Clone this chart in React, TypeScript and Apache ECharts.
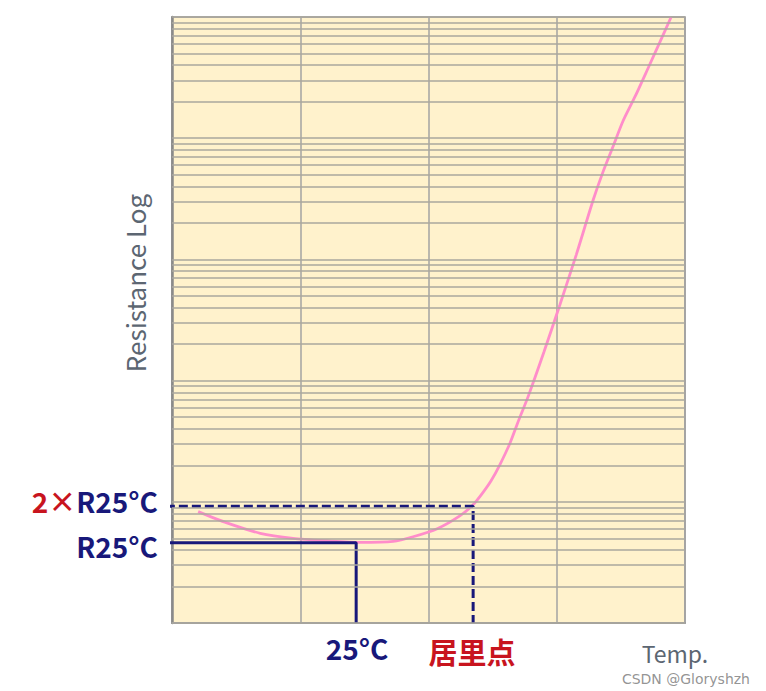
import React, { useEffect, useRef } from "react";
import * as echarts from "echarts";

// x axis: relative temperature position (0..100), 4 grid columns
const xMin = 0;
const xMax = 100;
const xInterval = 25;
// y axis: resistance, log scale, 5 decades
const yMin = 1;
const yMax = 100000;
const decades = [1, 10, 100, 1000, 10000];
const minorSteps = [1, 2, 3, 4, 5, 6, 7, 8, 9];

// PTC thermistor curve
const curveX = [5.1, 10.7, 17.2, 23.6, 30.2, 36.7, 43.1, 47.0, 51.7, 56.1, 58.7, 60.6, 62.2, 63.9, 65.9, 67.6, 69.4, 72.5, 75.6, 78.8, 82.1, 84.0, 86.0, 87.9, 90.3, 92.8, 95.1, 97.3];
const curveY = [8.3, 6.7, 5.5, 5.0, 4.77, 4.62, 4.71, 5.15, 6.0, 7.66, 9.45, 11.9, 14.9, 20.2, 30.6, 47.4, 73.4, 172, 421, 1090, 3090, 5250, 8600, 13800, 22200, 37800, 62000, 100000];

// reference markers
const r25 = 4.6;
const twoR25 = 9.2;
const x25C = 35.9;
const xCurie = 58.7;
const xLabelEdge = -1.2;

const NAVY = "#18187a";
const RED = "#c8141e";
const GREY_TEXT = "#5c6672";
const FONT = "'Noto Sans CJK SC', 'Noto Sans', sans-serif";

export default function App() {
  const ref = useRef<HTMLDivElement>(null);

  useEffect(() => {
    if (!ref.current) return;
    const chart = echarts.init(ref.current, undefined, { renderer: "svg" });

    const gridValues: number[] = [];
    decades.forEach((d) => minorSteps.forEach((m) => gridValues.push(d * m)));
    gridValues.push(yMax);

    const option: any = {
      animation: false,
      backgroundColor: "#ffffff",
      grid: {
        left: 172,
        right: 81,
        top: 17,
        bottom: 68,
        show: true,
        backgroundColor: "#fff2cc",
        borderColor: "#8e8e8e",
        borderWidth: 1.5,
      },
      xAxis: {
        type: "value",
        min: xMin,
        max: xMax,
        interval: xInterval,
        axisLine: { show: true, lineStyle: { color: "#9a9a9a", width: 2 } },
        axisTick: { show: false },
        axisLabel: { show: false },
        splitLine: { show: true, lineStyle: { color: "#a3a3a3", width: 1.5 } },
      },
      yAxis: {
        type: "log",
        logBase: 10,
        min: yMin,
        max: yMax,
        axisLine: { show: true, lineStyle: { color: "#8a8a8a", width: 2.5 } },
        axisTick: { show: false },
        axisLabel: { show: false },
        splitLine: { show: false },
      },
      series: [
        {
          type: "line",
          data: [[xMin, yMin]],
          symbol: "none",
          lineStyle: { opacity: 0 },
          silent: true,
          z: 1,
          markLine: {
            silent: true,
            symbol: "none",
            label: { show: false },
            lineStyle: { color: "#aaa79e", width: 1.5, type: "solid" },
            data: gridValues.map((v) => ({ yAxis: v })),
          },
        },
        {
          type: "line",
          data: curveX.map((x, i) => [x, curveY[i]]),
          smooth: 0.25,
          symbol: "none",
          lineStyle: { color: "#ff8dca", width: 2.8 },
          z: 3,
        },
        {
          type: "line",
          data: [
            [xLabelEdge, r25],
            [x25C, r25],
            [x25C, yMin],
          ],
          clip: false,
          symbol: "none",
          lineStyle: { color: NAVY, width: 3 },
          z: 4,
        },
        {
          type: "line",
          data: [
            [xLabelEdge, twoR25],
            [xCurie, twoR25],
            [xCurie, yMin],
          ],
          clip: false,
          symbol: "none",
          lineStyle: { color: NAVY, width: 3, type: [9, 4] },
          z: 4,
        },
      ],
      graphic: [
        {
          type: "text",
          x: 158,
          y: 501,
          style: {
            text: "{r|2×}{n|R25°C}",
            align: "right",
            verticalAlign: "middle",
            rich: {
              r: { fill: RED, fontSize: 28, fontWeight: "bold", fontFamily: FONT },
              n: { fill: NAVY, fontSize: 28, fontWeight: "bold", fontFamily: FONT },
            },
          },
        },
        {
          type: "text",
          x: 158,
          y: 546,
          style: {
            text: "R25°C",
            align: "right",
            verticalAlign: "middle",
            fill: NAVY,
            fontSize: 28,
            fontWeight: "bold",
            fontFamily: FONT,
          },
        },
        {
          type: "text",
          x: 357,
          y: 648,
          style: {
            text: "25°C",
            align: "center",
            verticalAlign: "middle",
            fill: NAVY,
            fontSize: 28,
            fontWeight: "bold",
            fontFamily: FONT,
          },
        },
        {
          type: "text",
          x: 472,
          y: 651,
          style: {
            text: "居里点",
            align: "center",
            verticalAlign: "middle",
            fill: RED,
            fontSize: 29,
            fontWeight: "bold",
            fontFamily: FONT,
          },
        },
        {
          type: "text",
          x: 675,
          y: 653,
          style: {
            text: "Temp.",
            align: "center",
            verticalAlign: "middle",
            fill: GREY_TEXT,
            fontSize: 23,
            lineHeight: 23,
            fontFamily: FONT,
          },
        },
        {
          type: "text",
          x: 134,
          y: 283,
          rotation: Math.PI / 2,
          style: {
            text: "Resistance Log",
            align: "center",
            verticalAlign: "middle",
            fill: GREY_TEXT,
            fontSize: 26,
            fontFamily: FONT,
          },
        },
        {
          type: "text",
          x: 750,
          y: 679,
          style: {
            text: "CSDN @Gloryshzh",
            align: "right",
            verticalAlign: "middle",
            fill: "rgba(120,120,120,0.8)",
            fontSize: 14,
            lineHeight: 14,
            fontFamily: "'DejaVu Sans', sans-serif",
          },
        },
      ],
    };

    chart.setOption(option);
    return () => chart.dispose();
  }, []);

  return (
    <div
      ref={ref}
      style={{ position: "fixed", left: 0, top: 0, width: 766, height: 691 }}
    />
  );
}
